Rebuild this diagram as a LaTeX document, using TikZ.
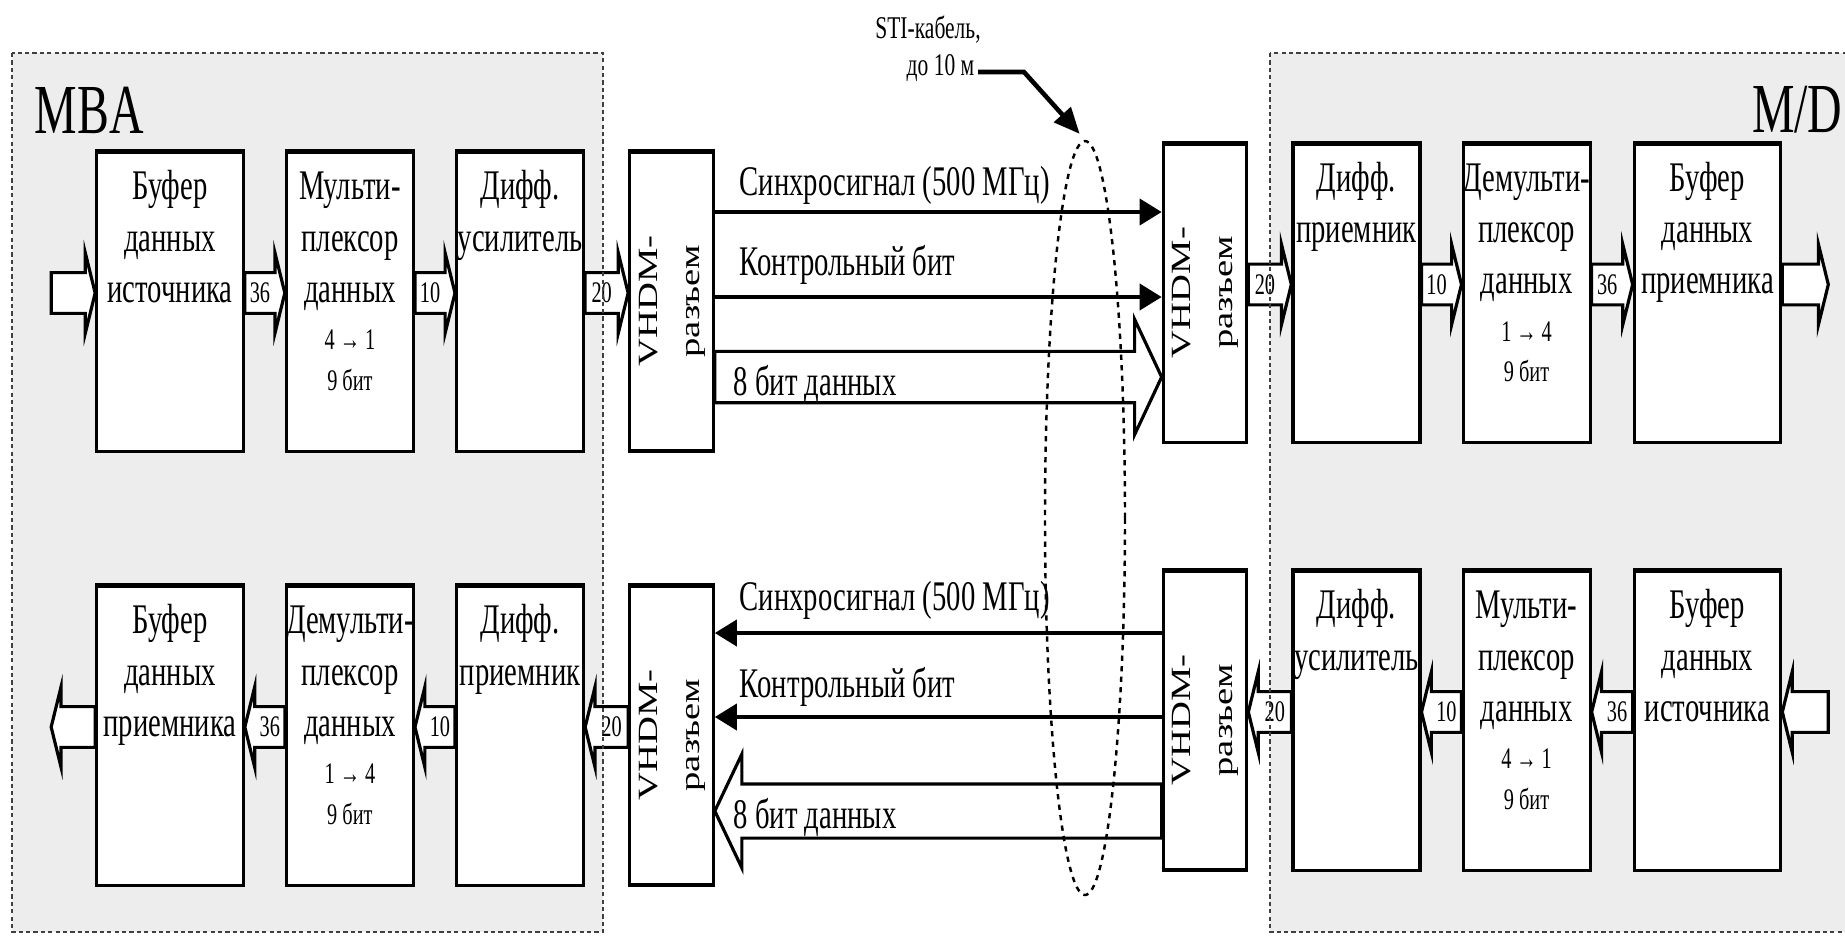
\documentclass[tikz,border=0pt]{standalone}
\usepackage{fontspec}
\setmainfont{Liberation Serif}[FakeStretch=0.68]
\newfontfamily\widefont{Liberation Serif}
\usetikzlibrary{arrows.meta, positioning, calc, shapes.geometric}

% hollow bus arrow: from, to, shaft half height, head half height, head length, label
\newcommand\busarrow[6]{%
  \draw[bus] let \p1=#1, \p2=#2, \n1={sign(\x2-\x1)} in
    (\x1,\y1+#3) -- ({\x2-(\n1)*#5},\y1+#3) -- ({\x2-(\n1)*#5},\y1+#4) -- (\x2,\y1)
    -- ({\x2-(\n1)*#5},\y1-#4) -- ({\x2-(\n1)*#5},\y1-#3) -- (\x1,\y1-#3) -- cycle
    ({(\x1+\x2-(\n1)*#5)/2},\y1) node[num] {#6};}
\newcommand\bus[3]{\busarrow{#1}{#2}{5.8pt}{11.4pt}{2.8pt}{#3}}
\newcommand\vhdm{\rotatebox{90}{\scalebox{1}[0.72]{\widefont\fontsize{11}{13.5}\selectfont
  \begin{tabular}{@{}c@{}}VHDM-\\[3pt]разъем\end{tabular}}}}
\newcommand\muxnote[1]{\par\vspace{2pt}{\fontsize{8.5}{11.5}\selectfont #1\par}}
\newcommand\fullline[1]{\makebox[\linewidth]{#1}}

\begin{document}
\begin{tikzpicture}[x=0.1mm, y=-0.1mm,
    regionfill/.style={fill=black!7},
    regionline/.style={draw=black!75, line width=0.6pt, dash pattern=on 1.2pt off 0.9pt},
    blk/.style={draw, fill=white, line width=0.9pt, text width=#1, inner xsep=0pt, inner ysep=0pt,
      align=flush center, text height=13.9pt, text depth=71.5pt, font=\fontsize{12}{14.6}\selectfont,
      path picture={\draw[line width=1.8pt] (path picture bounding box.north west) -- (path picture bounding box.north east);}},
    bigblk/.style={blk=14.65mm},
    midblk/.style={blk=12.7mm},
    conn/.style={draw, fill=white, line width=0.9pt, minimum width=8.35mm, minimum height=30mm, inner sep=0pt,
      path picture={\draw[line width=1.8pt] (path picture bounding box.north west) -- (path picture bounding box.north east);}},
    bus/.style={draw, fill=white, line width=0.9pt},
    sig/.style={line width=1.1pt, -{Triangle[length=2.2mm, width=2.6mm]}},
    ptr/.style={line width=1.3pt, -{Triangle[length=2.6mm, width=2.2mm]}, shorten >=0.8mm},
    cable/.style={ellipse, draw, line width=0.7pt, dash pattern=on 1.5pt off 1.5pt, minimum width=8mm, minimum height=75.4mm, inner sep=0pt},
    lbl/.style={font=\fontsize{12}{14}\selectfont, inner sep=0pt},
    num/.style={font=\fontsize{8.5}{9}\selectfont, inner sep=0pt},
    sti/.style={font=\fontsize{9}{10}\selectfont, inner sep=0pt},
    unit/.style={font=\fontsize{20}{24}\selectfont, inner sep=0pt}
  ]

  \useasboundingbox (0,0) rectangle (1845,936);
  \fill[white] (0,0) rectangle (1845,936);

  % --- units ---
  \fill[regionfill] (12,53) rectangle (603,932);
  \fill[regionfill] (1270,53) rectangle (1875,932);
  \node[unit, anchor=base west] (mba) at (34,133) {MBA};
  \node[unit, anchor=base east] (md) at (1843,132) {M/D};

  % --- top row, left ---
  \node[bigblk] (srcbufL) at (170,301) {Буфер\\данных\\источника};
  \node[midblk, right=4mm of srcbufL] (muxL) {Мульти-\\плексор\\данных\muxnote{4\,→\,1\\9 бит}};
  \node[midblk, right=4mm of muxL] (ampL) {Дифф.\\\fullline{усилитель}};
  \node[conn, right=4.3mm of ampL] (vhdmL) {\vhdm};

  % --- top row, right ---
  \node[conn] (vhdmR) at (1205,292.5) {\vhdm};
  \node[midblk, right=4.3mm of vhdmR] (rcvR) {Дифф.\\приемник};
  \node[midblk, right=4mm of rcvR] (demuxR) {\fullline{Демульти-}\\плексор\\данных\muxnote{1\,→\,4\\9 бит}};
  \node[bigblk, right=4.1mm of demuxR] (rcvbufR) {Буфер\\данных\\приемника};

  % --- bottom row, left ---
  \node[bigblk] (rcvbufL) at (170,735) {Буфер\\данных\\приемника};
  \node[midblk, right=4mm of rcvbufL] (demuxL) {\fullline{Демульти-}\\плексор\\данных\muxnote{1\,→\,4\\9 бит}};
  \node[midblk, right=4mm of demuxL] (rcvL) {Дифф.\\приемник};
  \node[conn, right=4.3mm of rcvL] (vhdmL2) {\vhdm};

  % --- bottom row, right ---
  \node[conn] (vhdmR2) at (1205,720) {\vhdm};
  \node[midblk, right=4.3mm of vhdmR2] (ampR) {Дифф.\\\fullline{усилитель}};
  \node[midblk, right=4mm of ampR] (muxR) {Мульти-\\плексор\\данных\muxnote{4\,→\,1\\9 бит}};
  \node[bigblk, right=4.1mm of muxR] (srcbufR) {Буфер\\данных\\источника};

  \coordinate[left=4.4mm of srcbufL] (inL);
  \coordinate[right=4.6mm of rcvbufR] (outR);
  \coordinate[left=4.4mm of rcvbufL] (outL);
  \coordinate[right=4.6mm of srcbufR] (inR);

  % --- buses ---
  \bus{([yshift=.8mm]inL)}{(srcbufL.west)}{}
  \bus{([yshift=.8mm]srcbufL.east)}{(muxL.west)}{36}
  \bus{([yshift=.8mm]muxL.east)}{(ampL.west)}{10}
  \bus{([yshift=.8mm]ampL.east)}{(vhdmL.west)}{20}
  \bus{([yshift=.8mm]vhdmR.east)}{(rcvR.west)}{20}
  \bus{([yshift=.8mm]rcvR.east)}{(demuxR.west)}{10}
  \bus{([yshift=.8mm]demuxR.east)}{(rcvbufR.west)}{36}
  \bus{([yshift=.8mm]rcvbufR.east)}{(outR)}{}
  \bus{([yshift=.8mm]vhdmL2.west)}{(rcvL.east)}{20}
  \bus{([yshift=.8mm]rcvL.west)}{(demuxL.east)}{10}
  \bus{([yshift=.8mm]demuxL.west)}{(rcvbufL.east)}{36}
  \bus{([yshift=.8mm]rcvbufL.west)}{(outL)}{}
  \bus{([yshift=.8mm]inR)}{(srcbufR.east)}{}
  \bus{([yshift=.8mm]srcbufR.west)}{(muxR.east)}{36}
  \bus{([yshift=.8mm]muxR.west)}{(ampR.east)}{10}
  \bus{([yshift=.8mm]ampR.west)}{(vhdmR2.east)}{20}

  % --- cable, forward ---
  \draw[sig] (vhdmL.east |- 0,212) -- node[lbl, pos=0, anchor=base west, xshift=2.3mm, yshift=1.7mm] (syncT) {Синхросигнал (500 МГц)} (vhdmR.west |- 0,212);
  \draw[sig] (vhdmL.east |- 0,297) -- node[lbl, pos=0, anchor=base west, xshift=2.3mm, yshift=2.2mm] (ctrlT) {Контрольный бит} (vhdmR.west |- 0,297);
  \busarrow{(vhdmL.east |- 0,377)}{(vhdmR.west)}{7.3pt}{16.4pt}{7.7pt}{}
  \node[lbl, anchor=base west] (bitsT) at (733,395) {8 бит данных};

  % --- cable, backward ---
  \draw[sig] (vhdmR2.west |- 0,633) -- node[lbl, pos=1, anchor=base west, xshift=2.3mm, yshift=2.3mm] (syncB) {Синхросигнал (500 МГц)} (vhdmL2.east |- 0,633);
  \draw[sig] (vhdmR2.west |- 0,717) -- node[lbl, pos=1, anchor=base west, xshift=2.3mm, yshift=2mm] (ctrlB) {Контрольный бит} (vhdmL2.east |- 0,717);
  \busarrow{(vhdmR2.west |- 0,811)}{(vhdmL2.east)}{7.7pt}{16.2pt}{7.7pt}{}
  \node[lbl, anchor=base west] (bitsB) at (733,828) {8 бит данных};

  % --- unit borders, cable mark ---
  \draw[regionline] (12,53) rectangle (603,932);
  \draw[regionline] (1270,53) rectangle (1875,932);
  \node[cable] (cable) at (1085,518) {};
  \node[sti, anchor=base] (sti1) at (928,38) {STI-кабель,};
  \node[sti, anchor=base east] (sti2) at (975,75) {до 10 м};
  \draw[ptr] ([xshift=.3mm, yshift=.3mm]sti2.base east) -- ++(4.6mm,0) -- (cable.north);

\end{tikzpicture}
\end{document}
